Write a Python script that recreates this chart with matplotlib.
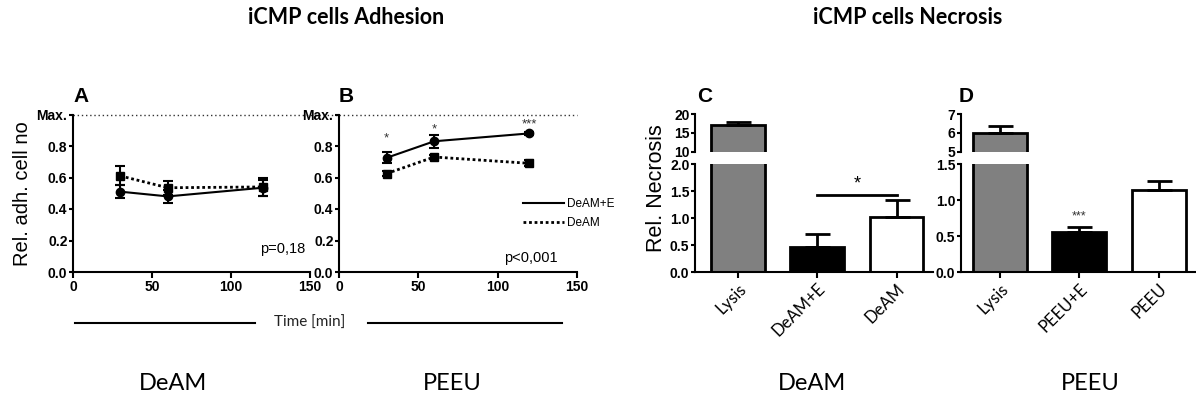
import matplotlib
matplotlib.use("Agg")
import matplotlib.pyplot as plt
from matplotlib.lines import Line2D

W, H = 1196, 399

# adhesion data (time in min)
time_min = [30, 60, 120]
a_deame = [0.51, 0.48, 0.535]
a_deame_err = [0.04, 0.04, 0.05]
a_deam = [0.61, 0.535, 0.54]
a_deam_err = [0.06, 0.045, 0.055]
b_e = [0.725, 0.83, 0.88]
b_e_err = [0.035, 0.04, 0.01]
b_plain = [0.625, 0.73, 0.69]
b_plain_err = [0.015, 0.01, 0.02]
b_stars = ["*", "*", "***"]
b_star_y = [0.81, 0.865, 0.90]

# necrosis data
c_labels = ["Lysis", "DeAM+E", "DeAM"]
c_vals = [17.2, 0.46, 1.03]
c_err = [0.8, 0.25, 0.31]
d_labels = ["Lysis", "PEEU+E", "PEEU"]
d_vals = [6.0, 0.56, 1.14]
d_err = [0.4, 0.065, 0.13]
bar_colors = ["#808080", "black", "white"]

ARIAL = "Liberation Sans"
CAL = "Lato"


def fx(px):
    return px / W


def fy(py):
    return 1 - py / H


def box(x0, x1, ytop, ybot):
    return [fx(x0), fy(ybot), fx(x1) - fx(x0), fy(ytop) - fy(ybot)]


def style(ax, bottom=True):
    for s in ["top", "right"]:
        ax.spines[s].set_visible(False)
    ax.spines["left"].set_linewidth(1.5)
    ax.spines["bottom"].set_linewidth(1.5)
    if not bottom:
        ax.spines["bottom"].set_visible(False)
        ax.tick_params(axis="x", bottom=False, labelbottom=False)
    ax.tick_params(axis="y", length=3, width=1.5, pad=1, labelsize=10)
    ax.tick_params(axis="x", length=4, width=1.5, pad=2, labelsize=10)
    for t in ax.get_yticklabels() + ax.get_xticklabels():
        t.set_fontfamily(ARIAL)
        t.set_fontweight("bold")


fig = plt.figure(figsize=(W / 100, H / 100), dpi=100)

# ---- adhesion panels
axA = fig.add_axes(box(73, 310, 114.5, 272))
axB = fig.add_axes(box(339, 577, 114.5, 272))
for ax in (axA, axB):
    ax.set_xlim(0, 150)
    ax.set_ylim(0, 1.0)
    ax.set_xticks([0, 50, 100, 150])
    ax.set_yticks([0, 0.2, 0.4, 0.6, 0.8, 1.0])
    ax.set_yticklabels(["0.0", "0.2", "0.4", "0.6", "0.8", "Max."])
    style(ax)

axA.plot([0, 168], [1, 1], color="#333333", lw=1, ls=(0, (1, 2)), clip_on=False)
axB.plot([0, 150], [1, 1], color="#333333", lw=1, ls=(0, (1, 2)), clip_on=False)

ekw = dict(color="black", capsize=3.5, elinewidth=1.5, capthick=1.5, clip_on=False)
axA.errorbar(time_min, a_deam, yerr=a_deam_err, marker="s", ms=6, lw=2, ls=(0, (1, 1)), **ekw)
axA.errorbar(time_min, a_deame, yerr=a_deame_err, marker="o", ms=6, lw=1.5, ls="-", **ekw)
axB.errorbar(time_min, b_plain, yerr=b_plain_err, marker="s", ms=6, lw=2, ls=(0, (1, 1)), **ekw)
axB.errorbar(time_min, b_e, yerr=b_e_err, marker="o", ms=6, lw=1.5, ls="-", **ekw)
for x, s, y in zip(time_min, b_stars, b_star_y):
    axB.text(x, y, s, ha="center", va="bottom", fontsize=9.5, family=ARIAL, color="#333333")

axA.set_ylabel("Rel. adh. cell no", fontsize=14.5, family=ARIAL, labelpad=3)
axA.text(0.98, 0.145, "p=0,18", transform=axA.transAxes, ha="right", va="center",
         fontsize=10.5, family=ARIAL)
axB.text(0.92, 0.09, "p<0,001", transform=axB.transAxes, ha="right", va="center",
         fontsize=10.5, family=ARIAL)
handles = [Line2D([], [], color="black", lw=1.5, ls="-"),
           Line2D([], [], color="black", lw=2, ls=(0, (1, 1)))]
axB.legend(handles, ["DeAM+E", "DeAM"], loc="upper left", bbox_to_anchor=(0.775, 0.47),
           frameon=False, prop={"family": ARIAL, "size": 8.5}, handlelength=3.4,
           handletextpad=0.3, labelspacing=0.6, borderpad=0, borderaxespad=0)

fig.text(fx(73), fy(96), "A", fontsize=15, fontweight="bold", family=ARIAL, va="center")
fig.text(fx(339), fy(96), "B", fontsize=15, fontweight="bold", family=ARIAL, va="center")


# ---- necrosis panels (broken axes)
def necrosis(x0, x1, xl, labels, vals, errs, ylo, yhi, yticks_lo, yticks_hi):
    lo = fig.add_axes(box(x0, x1, 164.3, 272.3))
    hi = fig.add_axes(box(x0, x1, 114.3, 151.7))
    pos = list(range(len(labels)))
    for ax in (lo, hi):
        ax.bar(pos, vals, width=0.68, color=bar_colors, edgecolor="black", linewidth=2,
               yerr=[[0] * len(vals), errs],
               error_kw=dict(ecolor="black", elinewidth=2, capsize=9, capthick=2))
        ax.set_xlim(*xl)
    lo.set_ylim(*ylo)
    hi.set_ylim(*yhi)
    lo.set_yticks(yticks_lo)
    lo.set_yticklabels(["%.1f" % v for v in yticks_lo])
    hi.set_yticks(yticks_hi)
    lo.set_xticks(pos)
    lo.set_xticklabels(labels)
    style(lo)
    style(hi, bottom=False)
    for t in lo.get_xticklabels():
        t.set_fontweight("normal")
        t.set_fontfamily(CAL)
        t.set_fontsize(12)
        t.set_rotation(45)
        t.set_ha("right")
        t.set_rotation_mode("anchor")
    return lo, hi


cLo, cHi = necrosis(695, 933, (-0.54, 2.46), c_labels, c_vals, c_err, (0, 2.0), (10, 20),
                    [0, 0.5, 1.0, 1.5, 2.0], [10, 15, 20])
dLo, dHi = necrosis(961, 1196, (-0.49, 2.47), d_labels, d_vals, d_err, (0, 1.5), (5, 7),
                    [0, 0.5, 1.0, 1.5], [5, 6, 7])

cLo.plot([1, 2], [1.43, 1.43], color="black", lw=2)
cLo.text(1.5, 1.47, "*", ha="center", va="bottom", fontsize=13, family=ARIAL)
dLo.text(1, 0.69, "***", ha="center", va="bottom", fontsize=9, family=ARIAL, color="#333333")
fig.text(fx(657), fy(188), "Rel. Necrosis", rotation=90, ha="center", va="center",
         fontsize=15.5, family=ARIAL)

fig.text(fx(697), fy(96), "C", fontsize=15, fontweight="bold", family=ARIAL, va="center")
fig.text(fx(959), fy(96), "D", fontsize=15, fontweight="bold", family=ARIAL, va="center")

# ---- titles, time axis label, material labels
fig.text(fx(346), fy(18), "iCMP cells Adhesion", ha="center", va="center",
         fontsize=15.5, fontweight="bold", family=CAL)
fig.text(fx(908), fy(18), "iCMP cells Necrosis", ha="center", va="center",
         fontsize=15.5, fontweight="bold", family=CAL)
fig.add_artist(Line2D([fx(75), fx(255)], [fy(323), fy(323)], color="black", lw=1.5))
fig.add_artist(Line2D([fx(368), fx(562)], [fy(323), fy(323)], color="black", lw=1.5))
fig.text(fx(310), fy(323), "Time [min]", ha="center", va="center", fontsize=11,
         family=CAL, color="#222222")
for xc, s in [(173, "DeAM"), (452, "PEEU"), (812, "DeAM"), (1090, "PEEU")]:
    fig.text(fx(xc), fy(384), s, ha="center", va="center", fontsize=17, family=CAL)

fig.savefig("out.png", dpi=100)
